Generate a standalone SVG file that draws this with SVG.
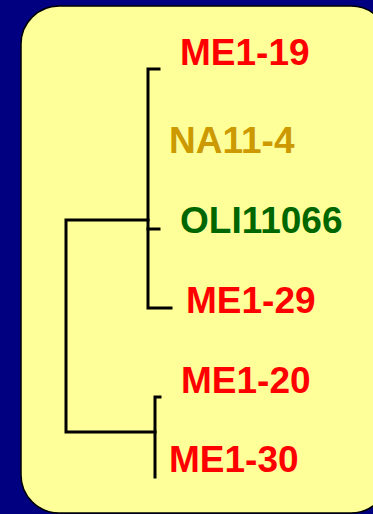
<svg xmlns="http://www.w3.org/2000/svg" width="373" height="514" viewBox="0 0 373 514">
<style>
.lbl{font-family:"Liberation Sans",Arial,sans-serif;font-weight:bold;font-size:37px}
.red{fill:#FF0000}
.gold{fill:#CC9900}
.green{fill:#006600}
.br{fill:none;stroke:#000;stroke-width:3;stroke-linecap:square;stroke-linejoin:miter}
</style>
<rect x="0" y="0" width="373" height="514" fill="#000080"/>
<rect id="panel" x="21" y="6" width="368" height="507" rx="38" ry="38" fill="#FFFF99" stroke="#000" stroke-width="1.5"/>
<g id="connectors">
<path class="br" d="M159,69 H148 V308 H171"/>
<path class="br" d="M148,229 H159"/>
<path class="br" d="M148,220 H66 V432 H155"/>
<path class="br" d="M160,397 H155 V477"/>
</g>
<g id="n_ME1-19"><text class="lbl red" x="180" y="65">ME1-19</text></g>
<g id="n_NA11-4"><text class="lbl gold" x="169" y="153">NA11-4</text></g>
<g id="n_OLI11066"><text class="lbl green" x="180" y="233">OLI11066</text></g>
<g id="n_ME1-29"><text class="lbl red" x="186" y="313">ME1-29</text></g>
<g id="n_ME1-20"><text class="lbl red" x="181" y="393">ME1-20</text></g>
<g id="n_ME1-30"><text class="lbl red" x="169" y="472">ME1-30</text></g>
</svg>
